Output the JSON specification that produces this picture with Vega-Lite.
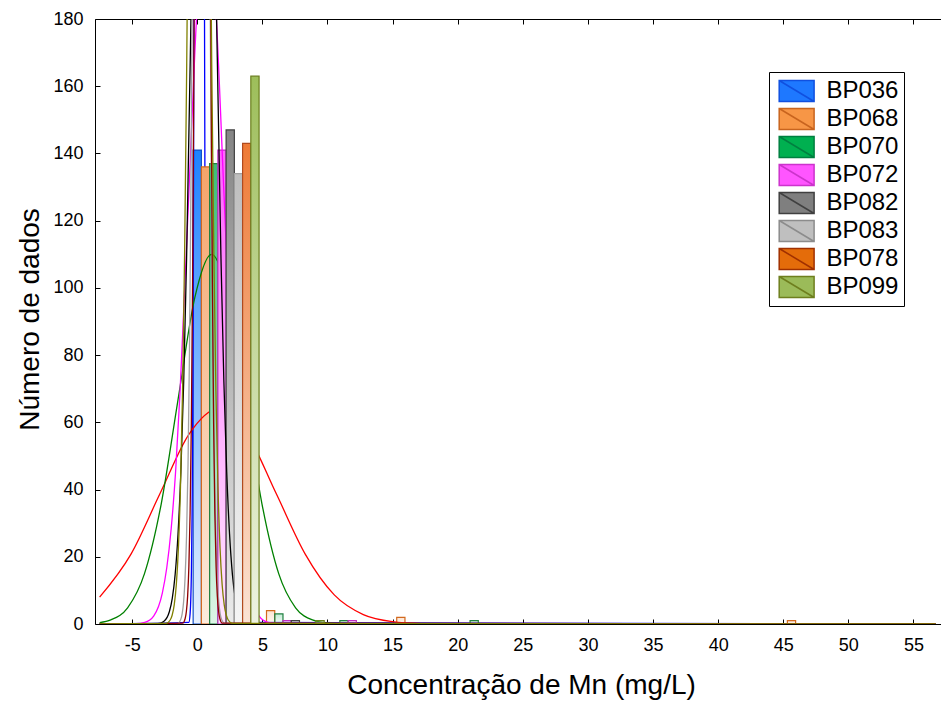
{
  "$schema": "https://vega.github.io/schema/vega-lite/v6.json",
  "width": 846,
  "height": 605,
  "autosize": {"type": "none"},
  "padding": {"left": 95, "top": 19, "right": 0, "bottom": 78},
  "background": "white",
  "config": {
    "view": {"stroke": null},
    "font": "Liberation Sans",
    "axis": {"labelFont": "Liberation Sans", "titleFont": "Liberation Sans", "grid": false, "domainColor": "black", "tickColor": "black", "labelColor": "black", "titleColor": "black", "titleFontWeight": "normal", "labelFontWeight": "normal", "domainWidth": 1, "tickWidth": 1},
    "legend": {"labelFont": "Liberation Sans"}
  },
  "datasets": {
    "bars": [
      {"s": "BP036", "x": 0, "y": 141},
      {"s": "BP068", "x": 0, "y": 136}, {"s": "BP068", "x": 5, "y": 4}, {"s": "BP068", "x": 15, "y": 2}, {"s": "BP068", "x": 45, "y": 1},
      {"s": "BP070", "x": 0, "y": 137}, {"s": "BP070", "x": 5, "y": 3}, {"s": "BP070", "x": 10, "y": 1}, {"s": "BP070", "x": 20, "y": 1},
      {"s": "BP072", "x": 0, "y": 141}, {"s": "BP072", "x": 5, "y": 1}, {"s": "BP072", "x": 10, "y": 1},
      {"s": "BP082", "x": 0, "y": 147}, {"s": "BP082", "x": 5, "y": 1},
      {"s": "BP083", "x": 0, "y": 134},
      {"s": "BP078", "x": 0, "y": 143},
      {"s": "BP099", "x": 0, "y": 163}, {"s": "BP099", "x": 5, "y": 1}
    ],
    "curves": [
      {"s": "BP036", "x": -7.5, "y": 0}, {"s": "BP036", "x": -0.65, "y": 0.47}, {"s": "BP036", "x": -0.55, "y": 3.1}, {"s": "BP036", "x": -0.5, "y": 7.2}, {"s": "BP036", "x": -0.45, "y": 15.6}, {"s": "BP036", "x": -0.4, "y": 32.1}, {"s": "BP036", "x": -0.35, "y": 61.7}, {"s": "BP036", "x": -0.3, "y": 111.9}, {"s": "BP036", "x": -0.25, "y": 190.2}, {"s": "BP036", "x": -0.2, "y": 304}, {"s": "BP036", "x": -0.15, "y": 456.5}, {"s": "BP036", "x": -0.05, "y": 852.7}, {"s": "BP036", "x": 0.05, "y": 1240.8}, {"s": "BP036", "x": 0.15, "y": 1406}, {"s": "BP036", "x": 0.25, "y": 1240.8}, {"s": "BP036", "x": 0.35, "y": 852.7}, {"s": "BP036", "x": 0.45, "y": 456.5}, {"s": "BP036", "x": 0.5, "y": 304}, {"s": "BP036", "x": 0.55, "y": 190.2}, {"s": "BP036", "x": 0.6, "y": 111.9}, {"s": "BP036", "x": 0.65, "y": 61.7}, {"s": "BP036", "x": 0.7, "y": 32.1}, {"s": "BP036", "x": 0.75, "y": 15.6}, {"s": "BP036", "x": 0.8, "y": 7.2}, {"s": "BP036", "x": 0.85, "y": 3.1}, {"s": "BP036", "x": 0.95, "y": 0.47}, {"s": "BP036", "x": 56.7, "y": 0},

      {"s": "BP068", "x": -7.5, "y": 8.0}, {"s": "BP068", "x": -5.09, "y": 20.8}, {"s": "BP068", "x": -2.86, "y": 38.8}, {"s": "BP068", "x": -0.63, "y": 56.5}, {"s": "BP068", "x": 1.6, "y": 64}, {"s": "BP068", "x": 3.83, "y": 56.5}, {"s": "BP068", "x": 6.06, "y": 38.8}, {"s": "BP068", "x": 8.29, "y": 20.8}, {"s": "BP068", "x": 10.52, "y": 8.66}, {"s": "BP068", "x": 12.75, "y": 2.81}, {"s": "BP068", "x": 14.98, "y": 0.71}, {"s": "BP068", "x": 17.21, "y": 0.14}, {"s": "BP068", "x": 19.44, "y": 0.02}, {"s": "BP068", "x": 56.7, "y": 0},

      {"s": "BP070", "x": -7.5, "y": 0.43}, {"s": "BP070", "x": -6.64, "y": 1.22}, {"s": "BP070", "x": -5.35, "y": 4.83}, {"s": "BP070", "x": -4.06, "y": 14.9}, {"s": "BP070", "x": -2.77, "y": 35.7}, {"s": "BP070", "x": -1.48, "y": 66.7}, {"s": "BP070", "x": -0.19, "y": 97.1}, {"s": "BP070", "x": 1.1, "y": 110}, {"s": "BP070", "x": 2.39, "y": 97.1}, {"s": "BP070", "x": 3.68, "y": 66.7}, {"s": "BP070", "x": 4.97, "y": 35.7}, {"s": "BP070", "x": 6.26, "y": 14.9}, {"s": "BP070", "x": 7.55, "y": 4.83}, {"s": "BP070", "x": 8.84, "y": 1.22}, {"s": "BP070", "x": 10.13, "y": 0.24}, {"s": "BP070", "x": 11.42, "y": 0.04}, {"s": "BP070", "x": 56.7, "y": 0},

      {"s": "BP072", "x": -7.5, "y": 0}, {"s": "BP072", "x": -4.7, "y": 0.07}, {"s": "BP072", "x": -4.03, "y": 0.46}, {"s": "BP072", "x": -3.35, "y": 2.34}, {"s": "BP072", "x": -2.68, "y": 9.26}, {"s": "BP072", "x": -2.34, "y": 16.8}, {"s": "BP072", "x": -2.0, "y": 28.5}, {"s": "BP072", "x": -1.66, "y": 45.6}, {"s": "BP072", "x": -1.33, "y": 68.5}, {"s": "BP072", "x": -0.65, "y": 128}, {"s": "BP072", "x": 0.03, "y": 186.2}, {"s": "BP072", "x": 0.7, "y": 211}, {"s": "BP072", "x": 1.38, "y": 186.2}, {"s": "BP072", "x": 2.05, "y": 128}, {"s": "BP072", "x": 2.73, "y": 68.5}, {"s": "BP072", "x": 3.06, "y": 45.6}, {"s": "BP072", "x": 3.4, "y": 28.5}, {"s": "BP072", "x": 3.74, "y": 16.8}, {"s": "BP072", "x": 4.08, "y": 9.26}, {"s": "BP072", "x": 4.75, "y": 2.34}, {"s": "BP072", "x": 5.43, "y": 0.46}, {"s": "BP072", "x": 6.1, "y": 0.07}, {"s": "BP072", "x": 56.7, "y": 0},

      {"s": "BP082", "x": -7.5, "y": 0}, {"s": "BP082", "x": -3.02, "y": 0.11}, {"s": "BP082", "x": -2.58, "y": 0.73}, {"s": "BP082", "x": -2.14, "y": 3.72}, {"s": "BP082", "x": -1.92, "y": 7.64}, {"s": "BP082", "x": -1.7, "y": 14.7}, {"s": "BP082", "x": -1.48, "y": 26.7}, {"s": "BP082", "x": -1.26, "y": 45.3}, {"s": "BP082", "x": -1.04, "y": 72.5}, {"s": "BP082", "x": -0.82, "y": 108.8}, {"s": "BP082", "x": -0.38, "y": 203.2}, {"s": "BP082", "x": 0.06, "y": 295.6}, {"s": "BP082", "x": 0.5, "y": 335}, {"s": "BP082", "x": 0.94, "y": 295.6}, {"s": "BP082", "x": 1.38, "y": 203.2}, {"s": "BP082", "x": 1.82, "y": 108.8}, {"s": "BP082", "x": 2.04, "y": 72.5}, {"s": "BP082", "x": 2.26, "y": 45.3}, {"s": "BP082", "x": 2.48, "y": 26.7}, {"s": "BP082", "x": 2.7, "y": 14.7}, {"s": "BP082", "x": 2.92, "y": 7.64}, {"s": "BP082", "x": 3.14, "y": 3.72}, {"s": "BP082", "x": 3.58, "y": 0.73}, {"s": "BP082", "x": 4.02, "y": 0.11}, {"s": "BP082", "x": 56.7, "y": 0},

      {"s": "BP083", "x": -7.5, "y": 0}, {"s": "BP083", "x": -1.5, "y": 0.2}, {"s": "BP083", "x": -1.275, "y": 1.3}, {"s": "BP083", "x": -1.16, "y": 3.0}, {"s": "BP083", "x": -1.05, "y": 6.6}, {"s": "BP083", "x": -0.94, "y": 13.5}, {"s": "BP083", "x": -0.825, "y": 26.1}, {"s": "BP083", "x": -0.71, "y": 47.3}, {"s": "BP083", "x": -0.6, "y": 80.4}, {"s": "BP083", "x": -0.49, "y": 128.5}, {"s": "BP083", "x": -0.375, "y": 192.9}, {"s": "BP083", "x": -0.15, "y": 360.3}, {"s": "BP083", "x": 0.075, "y": 524.2}, {"s": "BP083", "x": 0.3, "y": 594}, {"s": "BP083", "x": 0.525, "y": 524.2}, {"s": "BP083", "x": 0.75, "y": 360.3}, {"s": "BP083", "x": 0.975, "y": 192.9}, {"s": "BP083", "x": 1.09, "y": 128.5}, {"s": "BP083", "x": 1.2, "y": 80.4}, {"s": "BP083", "x": 1.31, "y": 47.3}, {"s": "BP083", "x": 1.425, "y": 26.1}, {"s": "BP083", "x": 1.54, "y": 13.5}, {"s": "BP083", "x": 1.65, "y": 6.6}, {"s": "BP083", "x": 1.76, "y": 3.0}, {"s": "BP083", "x": 1.875, "y": 1.3}, {"s": "BP083", "x": 2.1, "y": 0.2}, {"s": "BP083", "x": 56.7, "y": 0},

      {"s": "BP078", "x": -7.5, "y": 0}, {"s": "BP078", "x": -1.12, "y": 0.25}, {"s": "BP078", "x": -0.93, "y": 1.64}, {"s": "BP078", "x": -0.835, "y": 3.8}, {"s": "BP078", "x": -0.74, "y": 8.3}, {"s": "BP078", "x": -0.645, "y": 17.1}, {"s": "BP078", "x": -0.55, "y": 33.0}, {"s": "BP078", "x": -0.455, "y": 59.8}, {"s": "BP078", "x": -0.36, "y": 101.6}, {"s": "BP078", "x": -0.265, "y": 162.4}, {"s": "BP078", "x": -0.17, "y": 243.8}, {"s": "BP078", "x": 0.02, "y": 455.5}, {"s": "BP078", "x": 0.21, "y": 662.8}, {"s": "BP078", "x": 0.4, "y": 751}, {"s": "BP078", "x": 0.59, "y": 662.8}, {"s": "BP078", "x": 0.78, "y": 455.5}, {"s": "BP078", "x": 0.97, "y": 243.8}, {"s": "BP078", "x": 1.065, "y": 162.4}, {"s": "BP078", "x": 1.16, "y": 101.6}, {"s": "BP078", "x": 1.255, "y": 59.8}, {"s": "BP078", "x": 1.35, "y": 33.0}, {"s": "BP078", "x": 1.445, "y": 17.1}, {"s": "BP078", "x": 1.54, "y": 8.3}, {"s": "BP078", "x": 1.635, "y": 3.8}, {"s": "BP078", "x": 1.73, "y": 1.64}, {"s": "BP078", "x": 1.92, "y": 0.25}, {"s": "BP078", "x": 56.7, "y": 0},

      {"s": "BP099", "x": -7.5, "y": 0}, {"s": "BP099", "x": -2.41, "y": 0.17}, {"s": "BP099", "x": -2.09, "y": 1.12}, {"s": "BP099", "x": -1.93, "y": 2.6}, {"s": "BP099", "x": -1.77, "y": 5.7}, {"s": "BP099", "x": -1.61, "y": 11.7}, {"s": "BP099", "x": -1.45, "y": 22.5}, {"s": "BP099", "x": -1.29, "y": 40.8}, {"s": "BP099", "x": -1.13, "y": 69.4}, {"s": "BP099", "x": -0.97, "y": 111}, {"s": "BP099", "x": -0.81, "y": 166.6}, {"s": "BP099", "x": -0.49, "y": 311.1}, {"s": "BP099", "x": -0.17, "y": 452.7}, {"s": "BP099", "x": 0.15, "y": 513}, {"s": "BP099", "x": 0.47, "y": 452.7}, {"s": "BP099", "x": 0.79, "y": 311.1}, {"s": "BP099", "x": 1.11, "y": 166.6}, {"s": "BP099", "x": 1.27, "y": 111}, {"s": "BP099", "x": 1.43, "y": 69.4}, {"s": "BP099", "x": 1.59, "y": 40.8}, {"s": "BP099", "x": 1.75, "y": 22.5}, {"s": "BP099", "x": 1.91, "y": 11.7}, {"s": "BP099", "x": 2.07, "y": 5.7}, {"s": "BP099", "x": 2.23, "y": 2.6}, {"s": "BP099", "x": 2.39, "y": 1.12}, {"s": "BP099", "x": 2.71, "y": 0.17}, {"s": "BP099", "x": 56.7, "y": 0}
    ]
  },
  "resolve": {"axis": {"x": "independent"}},
  "layer": [
    {
      "encoding": {
        "x": {"field": "x", "type": "quantitative", "scale": {"domain": [-7.47, 56.73], "nice": false, "zero": false},
          "axis": {"orient": "bottom", "values": [-5, 0, 5, 10, 15, 20, 25, 30, 35, 40, 45, 50, 55], "labelExpr": "'' + datum.value", "tickSize": -5, "labelPadding": 17, "labelFontSize": 18, "labelFlush": false, "labelOverlap": false, "title": "Concentração de Mn (mg/L)", "titleFontSize": 28, "titleX": 426, "titleY": 69, "titleAlign": "center", "titleBaseline": "alphabetic"}},
        "y": {"field": "y", "type": "quantitative", "scale": {"domain": [0, 180], "nice": false},
          "axis": {"values": [0, 20, 40, 60, 80, 100, 120, 140, 160, 180], "tickSize": -5, "labelPadding": 17, "labelFontSize": 18, "labelFlush": false, "labelOverlap": false, "title": "Número de dados", "titleFontSize": 28, "titleX": -57, "titleY": 300, "titleAngle": -90, "titleAlign": "center", "titleBaseline": "alphabetic"}}
      },
      "layer": [
        {"data": {"name": "bars"}, "transform": [{"filter": "datum.s === 'BP036'"}],
         "mark": {"type": "bar", "clip": true, "width": 8.24, "xOffset": 0, "stroke": "#1450C8", "strokeWidth": 1.2,
           "fill": {"gradient": "linear", "x1": 0, "y1": 0, "x2": 0, "y2": 1, "stops": [{"offset": 0, "color": "#1E82FF"}, {"offset": 1, "color": "#E6F0FF"}]}},
         "encoding": {"fillOpacity": {"condition": {"test": "datum.y < 10", "value": 0.3}, "value": 1}}},
        {"data": {"name": "curves"}, "transform": [{"filter": "datum.s === 'BP036'"}],
         "mark": {"type": "line", "clip": true, "color": "#0000FF", "strokeWidth": 1.3, "interpolate": "monotone"}, "encoding": {}},

        {"data": {"name": "bars"}, "transform": [{"filter": "datum.s === 'BP068'"}],
         "mark": {"type": "bar", "clip": true, "width": 8.24, "xOffset": 8.24, "stroke": "#D2691E", "strokeWidth": 1.2,
           "fill": {"gradient": "linear", "x1": 0, "y1": 0, "x2": 0, "y2": 1, "stops": [{"offset": 0, "color": "#F5A46A"}, {"offset": 1, "color": "#FDEBDD"}]}},
         "encoding": {"fillOpacity": {"condition": {"test": "datum.y < 10", "value": 0.3}, "value": 1}}},
        {"data": {"name": "curves"}, "transform": [{"filter": "datum.s === 'BP068'"}],
         "mark": {"type": "line", "clip": true, "color": "#FF0000", "strokeWidth": 1.3, "interpolate": "monotone"}, "encoding": {}},

        {"data": {"name": "bars"}, "transform": [{"filter": "datum.s === 'BP070'"}],
         "mark": {"type": "bar", "clip": true, "width": 8.24, "xOffset": 16.48, "stroke": "#208040", "strokeWidth": 1.2,
           "fill": {"gradient": "linear", "x1": 0, "y1": 0, "x2": 0, "y2": 1, "stops": [{"offset": 0, "color": "#3CBE78"}, {"offset": 1, "color": "#DDF5E6"}]}},
         "encoding": {"fillOpacity": {"condition": {"test": "datum.y < 10", "value": 0.3}, "value": 1}}},
        {"data": {"name": "curves"}, "transform": [{"filter": "datum.s === 'BP070'"}],
         "mark": {"type": "line", "clip": true, "color": "#008000", "strokeWidth": 1.3, "interpolate": "monotone"}, "encoding": {}},

        {"data": {"name": "bars"}, "transform": [{"filter": "datum.s === 'BP072'"}],
         "mark": {"type": "bar", "clip": true, "width": 8.24, "xOffset": 24.72, "stroke": "#C030C0", "strokeWidth": 1.2,
           "fill": {"gradient": "linear", "x1": 0, "y1": 0, "x2": 0, "y2": 1, "stops": [{"offset": 0, "color": "#FF66FF"}, {"offset": 1, "color": "#FFE6FF"}]}},
         "encoding": {"fillOpacity": {"condition": {"test": "datum.y < 10", "value": 0.3}, "value": 1}}},
        {"data": {"name": "curves"}, "transform": [{"filter": "datum.s === 'BP072'"}],
         "mark": {"type": "line", "clip": true, "color": "#FF00FF", "strokeWidth": 1.3, "interpolate": "monotone"}, "encoding": {}},

        {"data": {"name": "bars"}, "transform": [{"filter": "datum.s === 'BP082'"}],
         "mark": {"type": "bar", "clip": true, "width": 8.24, "xOffset": 32.96, "stroke": "#404040", "strokeWidth": 1.2,
           "fill": {"gradient": "linear", "x1": 0, "y1": 0, "x2": 0, "y2": 1, "stops": [{"offset": 0, "color": "#858585"}, {"offset": 1, "color": "#EBEBEB"}]}},
         "encoding": {"fillOpacity": {"condition": {"test": "datum.y < 10", "value": 0.3}, "value": 1}}},
        {"data": {"name": "curves"}, "transform": [{"filter": "datum.s === 'BP082'"}],
         "mark": {"type": "line", "clip": true, "color": "#000000", "strokeWidth": 1.3, "interpolate": "monotone"}, "encoding": {}},

        {"data": {"name": "bars"}, "transform": [{"filter": "datum.s === 'BP083'"}],
         "mark": {"type": "bar", "clip": true, "width": 8.24, "xOffset": 41.2, "stroke": "#A0A0A0", "strokeWidth": 1.2,
           "fill": {"gradient": "linear", "x1": 0, "y1": 0, "x2": 0, "y2": 1, "stops": [{"offset": 0, "color": "#BEBEBE"}, {"offset": 1, "color": "#F5F5F5"}]}},
         "encoding": {"fillOpacity": {"condition": {"test": "datum.y < 10", "value": 0.3}, "value": 1}}},
        {"data": {"name": "curves"}, "transform": [{"filter": "datum.s === 'BP083'"}],
         "mark": {"type": "line", "clip": true, "color": "#A0A0A0", "strokeWidth": 1.3, "interpolate": "monotone"}, "encoding": {}},

        {"data": {"name": "bars"}, "transform": [{"filter": "datum.s === 'BP078'"}],
         "mark": {"type": "bar", "clip": true, "width": 8.24, "xOffset": 49.44, "stroke": "#B04A1E", "strokeWidth": 1.2,
           "fill": {"gradient": "linear", "x1": 0, "y1": 0, "x2": 0, "y2": 1, "stops": [{"offset": 0, "color": "#EE7A36"}, {"offset": 1, "color": "#FBE3D4"}]}},
         "encoding": {"fillOpacity": {"condition": {"test": "datum.y < 10", "value": 0.3}, "value": 1}}},
        {"data": {"name": "curves"}, "transform": [{"filter": "datum.s === 'BP078'"}],
         "mark": {"type": "line", "clip": true, "color": "#900000", "strokeWidth": 1.3, "interpolate": "monotone"}, "encoding": {}},

        {"data": {"name": "bars"}, "transform": [{"filter": "datum.s === 'BP099'"}],
         "mark": {"type": "bar", "clip": true, "width": 8.24, "xOffset": 57.68, "stroke": "#6B7F1E", "strokeWidth": 1.2,
           "fill": {"gradient": "linear", "x1": 0, "y1": 0, "x2": 0, "y2": 1, "stops": [{"offset": 0, "color": "#9DBE5A"}, {"offset": 1, "color": "#EEF3E2"}]}},
         "encoding": {"fillOpacity": {"condition": {"test": "datum.y < 10", "value": 0.3}, "value": 1}}},
        {"data": {"name": "curves"}, "transform": [{"filter": "datum.s === 'BP099'"}],
         "mark": {"type": "line", "clip": true, "color": "#808000", "strokeWidth": 1.3, "interpolate": "monotone"}, "encoding": {}}
      ]
    },
    {"data": {"values": []},
     "mark": {"type": "point", "filled": true, "opacity": 1, "strokeWidth": 1.5},
     "encoding": {
       "x": {"field": "x", "type": "quantitative", "scale": {"domain": [-7.47, 56.73], "nice": false, "zero": false}, "axis": {"orient": "top", "values": [-5, 0, 5, 10, 15, 20, 25, 30, 35, 40, 45, 50, 55], "labels": false, "title": null, "tickSize": -5}},
       "fill": {"field": "s", "type": "nominal",
         "scale": {"domain": ["BP036", "BP068", "BP070", "BP072", "BP082", "BP083", "BP078", "BP099"], "range": ["#1E78FF", "#F79646", "#00B050", "#FF55FF", "#7F7F7F", "#BFBFBF", "#E46C0A", "#9BBB59"]},
         "legend": {"orient": "none", "legendX": 674, "legendY": 53, "title": null, "symbolType": "M-0.674,-0.805H2V0.805H-0.674Z M-0.674,-0.805L2,0.805", "symbolSize": 681, "symbolStrokeWidth": 1.5, "symbolOpacity": 1, "labelFontSize": 24, "labelColor": "black", "labelOffset": 24.4, "rowPadding": 0, "padding": 5, "strokeColor": "black", "fillColor": "white", "labelLimit": 0}},
       "stroke": {"field": "s", "type": "nominal",
         "scale": {"domain": ["BP036", "BP068", "BP070", "BP072", "BP082", "BP083", "BP078", "BP099"], "range": ["#1050E0", "#C8641E", "#008040", "#CC33CC", "#404040", "#8C8C8C", "#A03000", "#6E7F1E"]},
         "legend": {"orient": "none", "legendX": 674, "legendY": 53, "title": null, "symbolType": "M-0.674,-0.805H2V0.805H-0.674Z M-0.674,-0.805L2,0.805", "symbolSize": 681, "symbolStrokeWidth": 1.5, "symbolOpacity": 1, "labelFontSize": 24, "labelColor": "black", "labelOffset": 24.4, "rowPadding": 0, "padding": 5, "strokeColor": "black", "fillColor": "white", "labelLimit": 0}}
     }}
  ]
}
